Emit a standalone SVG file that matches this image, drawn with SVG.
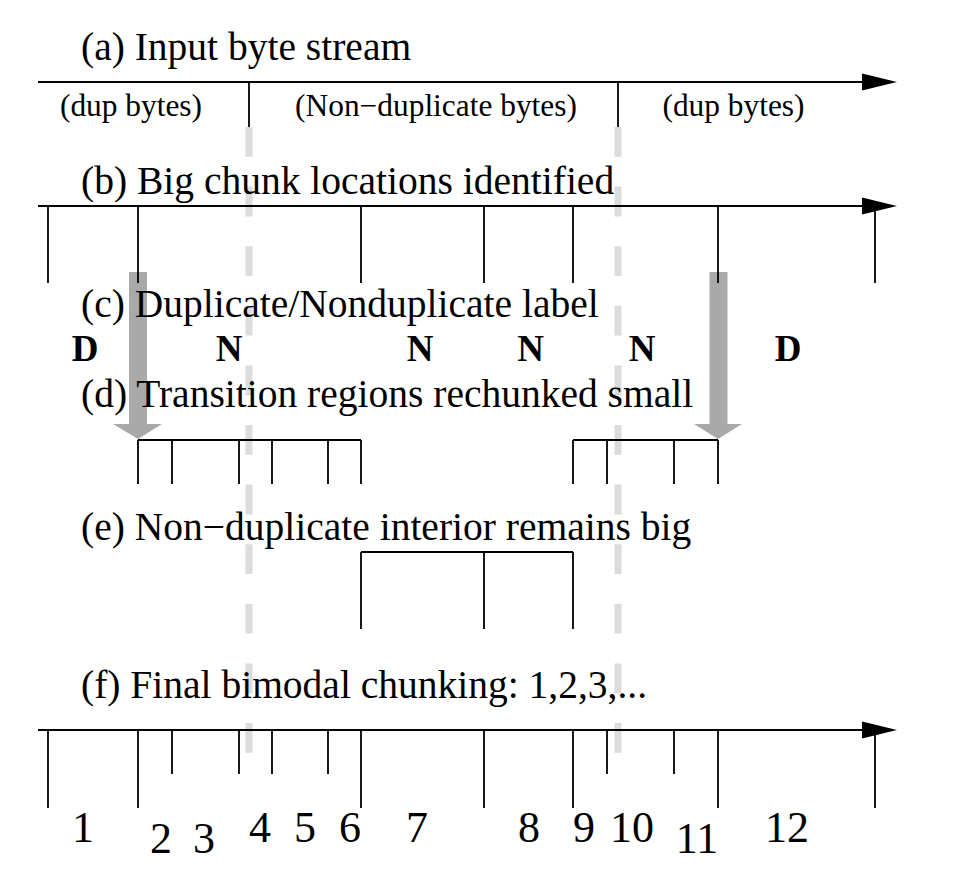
<svg xmlns="http://www.w3.org/2000/svg" width="954" height="894" viewBox="0 0 954 894">
<style>
.h{font-family:"Liberation Serif","Times New Roman",serif;font-size:39.5px;fill:#000}
.s{font-family:"Liberation Serif","Times New Roman",serif;font-size:31.4px;fill:#000;text-anchor:middle}
.b{font-family:"Liberation Serif","Times New Roman",serif;font-size:37px;font-weight:bold;fill:#000;text-anchor:middle}
.n{font-family:"Liberation Serif","Times New Roman",serif;font-size:44px;fill:#000;text-anchor:middle}
.ln{stroke:#000;stroke-width:1.8;fill:none}
.ax{stroke:#000;stroke-width:1.8;fill:none;marker-end:url(#ah)}
.dash{stroke:#dcdcdc;stroke-width:7;stroke-dasharray:29.8 29.8;fill:none}
.garrow{fill:#a9a9a9}
</style>
<defs>
<marker id="ah" markerUnits="userSpaceOnUse" markerWidth="36" markerHeight="18" refX="0" refY="8.5" orient="auto" viewBox="0 0 36 17">
<path d="M0,0 L35,8.5 L0,17 z" fill="#000"/>
</marker>
</defs>
<rect width="954" height="894" fill="#fff"/>

<g id="boundaries">
<line class="dash" x1="249" y1="127" x2="249" y2="753"/>
<line class="dash" x1="618" y1="127" x2="618" y2="753"/>
</g>

<g id="connectors">
<polygon class="garrow" points="129,272 147,272 147,424 162,424 138,439 113,424 129,424"/>
<polygon class="garrow" points="709.5,272 727.5,272 727.5,424 742,424 718,439 694,424 709.5,424"/>
</g>

<g id="row-a">
<text class="h" x="81" y="60">(a) Input byte stream</text>
<line class="ax" x1="38" y1="82" x2="862" y2="82"/>
<line class="ln" x1="249" y1="82" x2="249" y2="127"/>
<line class="ln" x1="618" y1="82" x2="618" y2="127"/>
<text class="s" x="131" y="116">(dup bytes)</text>
<text class="s" x="436" y="116">(Non−duplicate bytes)</text>
<text class="s" x="733.5" y="116">(dup bytes)</text>
</g>

<g id="row-b">
<text class="h" x="81" y="194">(b) Big chunk locations identified</text>
<line class="ax" x1="38" y1="206" x2="862" y2="206"/>
<path class="ln" d="M48,206V283M138,206V283M361,206V283M484,206V283M573,206V283M718,206V283M875,206V283"/>
</g>

<g id="row-c">
<text class="h" x="81" y="317">(c) Duplicate/Nonduplicate label</text>
<text class="b" x="85" y="361">D</text>
<text class="b" x="229" y="361">N</text>
<text class="b" x="420" y="361">N</text>
<text class="b" x="530.5" y="361">N</text>
<text class="b" x="642" y="361">N</text>
<text class="b" x="788" y="361">D</text>
</g>

<g id="row-d">
<text class="h" x="81" y="407">(d) Transition regions rechunked small</text>
<path class="ln" d="M138,440H361M138,440V484M172,440V484M239,440V484M272,440V484M328,440V484M361,440V484"/>
<path class="ln" d="M573,440H718M573,440V484M607,440V484M674,440V484M718,440V484"/>
</g>

<g id="row-e">
<text class="h" x="81" y="540">(e) Non−duplicate interior remains big</text>
<path class="ln" d="M361,552H573M361,552V629M484,552V629M573,552V629"/>
</g>

<g id="row-f">
<text class="h" x="81" y="698">(f) Final bimodal chunking: 1,2,3,...</text>
<line class="ax" x1="38" y1="730" x2="862" y2="730"/>
<path class="ln" d="M48,730V808M138,730V808M361,730V808M484,730V808M573,730V808M718,730V808M875,730V808"/>
<path class="ln" d="M172,730V774M239,730V774M272,730V774M328,730V774M607,730V774M674,730V774"/>
<text class="n" x="83" y="842">1</text>
<text class="n" x="161" y="853">2</text>
<text class="n" x="204" y="853">3</text>
<text class="n" x="260" y="842">4</text>
<text class="n" x="305" y="842">5</text>
<text class="n" x="350" y="842">6</text>
<text class="n" x="417" y="842">7</text>
<text class="n" x="529" y="842">8</text>
<text class="n" x="584" y="842">9</text>
<text class="n" x="632" y="842">10</text>
<text class="n" x="697" y="853">11</text>
<text class="n" x="787" y="842">12</text>
</g>
</svg>
